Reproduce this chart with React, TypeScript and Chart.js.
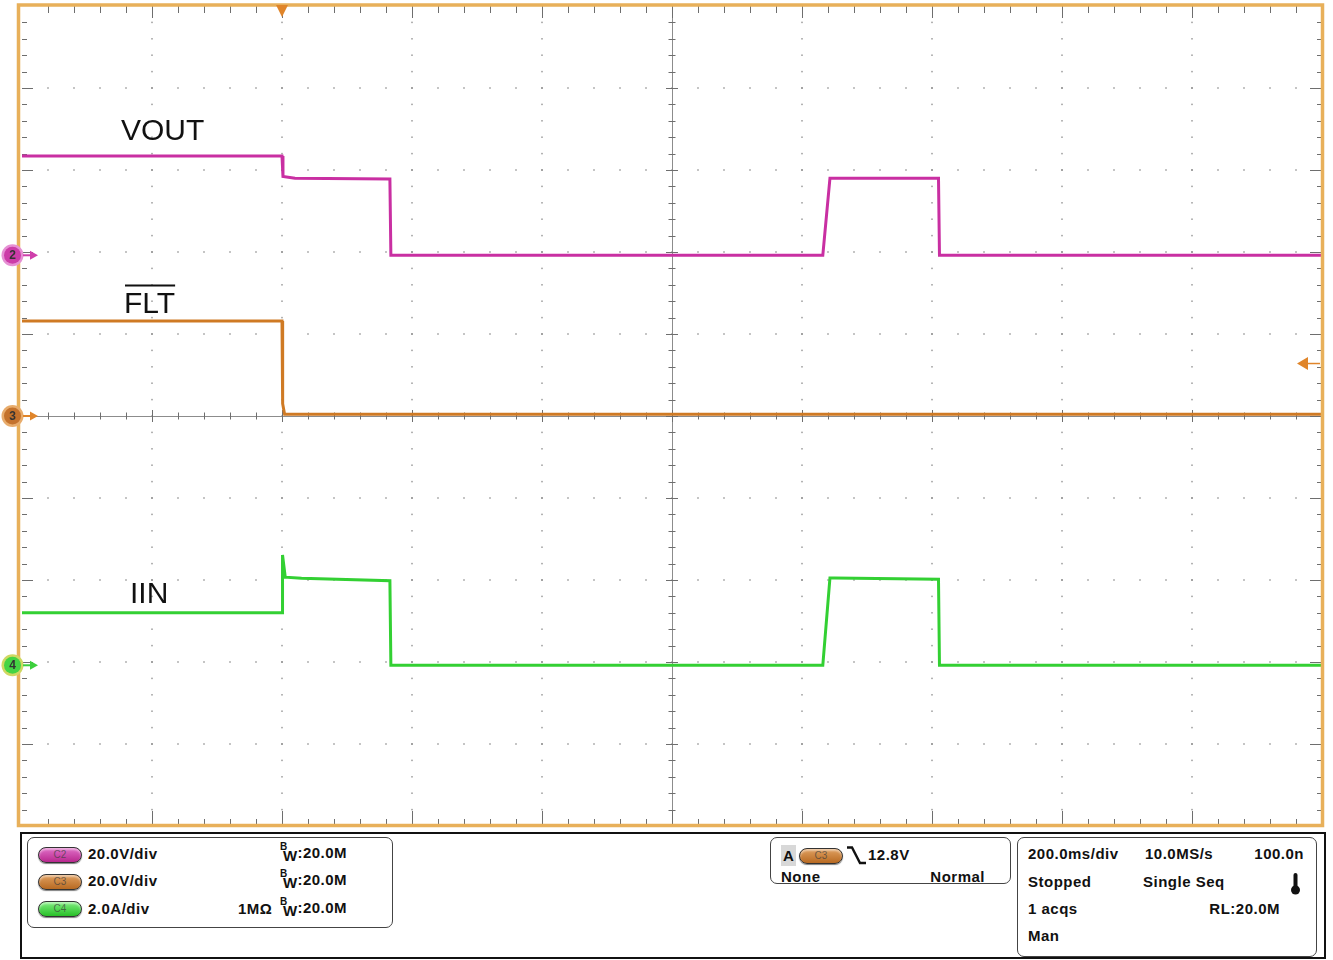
import React, { useEffect, useRef } from "react";
import { Chart, registerables } from "chart.js";
Chart.register(...registerables);

// ---- time base (ms), 200 ms/div, 10 divisions, trigger at t=0 ----
const TIME_MIN = -400;
const TIME_MAX = 1600;
const H_DIVS = 10;
const V_DIVS = 10;
const MINOR = 5;

// ---- Channel 2: VOUT (20 V/div) ----
const VOUT_SCALE = 20;
const VOUT_OFFSET = 1.96;
const voutTimes = [-400, 0, 1.5, 20, 166, 167.5, 832, 843, 1010, 1011.5, 1600];
const voutValues = [24.2, 24.2, 19.2, 18.8, 18.6, 0, 0, 18.8, 18.8, 0, 0];

// ---- Channel 3: FLT (20 V/div) ----
const FLT_SCALE = 20;
const FLT_OFFSET = 0;
const fltTimes = [-400, 0, 1, 4, 1600];
const fltValues = [23.2, 23.2, 3.0, 0.4, 0.4];

// ---- Channel 4: IIN (2 A/div) ----
const IIN_SCALE = 2;
const IIN_OFFSET = -3.04;
const iinTimes = [-400, 0, 0.8, 5, 30, 166, 167.5, 832, 843, 850, 1010, 1011.5, 1600];
const iinValues = [1.28, 1.28, 2.69, 2.15, 2.12, 2.06, 0, 0, 2.13, 2.13, 2.1, 0, 0];

const TRIGGER_LEVEL = 12.8; // V on C3

function toPoints(times: number[], values: number[], scale: number, offset: number) {
  return times.map((t, i) => ({ x: t, y: values[i] / scale + offset }));
}

function marker(ctx: CanvasRenderingContext2D, cy: number, ring: string, fill: string, arrow: string, label: string) {
  const cx = 12.5;
  ctx.beginPath();
  ctx.arc(cx, cy, 11, 0, Math.PI * 2);
  ctx.fillStyle = ring;
  ctx.fill();
  ctx.beginPath();
  ctx.arc(cx, cy, 8.5, 0, Math.PI * 2);
  ctx.fillStyle = fill;
  ctx.fill();
  ctx.strokeStyle = arrow;
  ctx.lineWidth = 2;
  ctx.beginPath();
  ctx.moveTo(23, cy);
  ctx.lineTo(32, cy);
  ctx.stroke();
  ctx.fillStyle = arrow;
  ctx.beginPath();
  ctx.moveTo(30, cy - 4.5);
  ctx.lineTo(38, cy);
  ctx.lineTo(30, cy + 4.5);
  ctx.closePath();
  ctx.fill();
  ctx.fillStyle = "#333";
  ctx.font = "bold 12px 'Liberation Sans', Arial, sans-serif";
  ctx.textAlign = "center";
  ctx.textBaseline = "middle";
  ctx.fillText(label, cx, cy + 0.5);
}

const scopePlugin = {
  id: "scope",
  beforeDatasetsDraw(chart: any) {
    const { ctx, chartArea: a } = chart;
    const dx = (a.right - a.left) / H_DIVS;
    const dy = (a.bottom - a.top) / V_DIVS;
    ctx.save();
    ctx.fillStyle = "rgba(120,120,120,0.75)";
    for (let i = 1; i < H_DIVS; i++) {
      if (i === H_DIVS / 2) continue;
      const px = a.left + i * dx;
      for (let j = 1; j < V_DIVS * MINOR; j++) {
        const py = a.top + (j * dy) / MINOR;
        ctx.fillRect(px - 0.75, py - 0.75, 1.5, 1.5);
      }
    }
    for (let j = 1; j < V_DIVS; j++) {
      if (j === V_DIVS / 2) continue;
      const py = a.top + j * dy;
      for (let i = 1; i < H_DIVS * MINOR; i++) {
        const px = a.left + (i * dx) / MINOR;
        ctx.fillRect(px - 0.75, py - 0.75, 1.5, 1.5);
      }
    }
    const cx = a.left + (H_DIVS / 2) * dx;
    const cy = a.top + (V_DIVS / 2) * dy;
    ctx.strokeStyle = "#8c8c8c";
    ctx.lineWidth = 1;
    ctx.beginPath();
    ctx.moveTo(Math.round(cx) + 0.5, a.top);
    ctx.lineTo(Math.round(cx) + 0.5, a.bottom);
    ctx.moveTo(a.left, Math.round(cy) + 0.5);
    ctx.lineTo(a.right, Math.round(cy) + 0.5);
    ctx.stroke();
    ctx.strokeStyle = "#6e6e6e";
    ctx.beginPath();
    for (let i = 1; i < H_DIVS * MINOR; i++) {
      const px = Math.round(a.left + (i * dx) / MINOR) + 0.5;
      const major = i % MINOR === 0;
      const len = major ? 6 : 3.5;
      ctx.moveTo(px, cy - len);
      ctx.lineTo(px, cy + len);
      ctx.moveTo(px, a.top);
      ctx.lineTo(px, a.top + (major ? 12 : 7));
      ctx.moveTo(px, a.bottom);
      ctx.lineTo(px, a.bottom - (major ? 15 : 7));
    }
    for (let j = 1; j < V_DIVS * MINOR; j++) {
      const py = Math.round(a.top + (j * dy) / MINOR) + 0.5;
      const major = j % MINOR === 0;
      const len = major ? 6 : 3.5;
      ctx.moveTo(cx - len, py);
      ctx.lineTo(cx + len, py);
      ctx.moveTo(a.left, py);
      ctx.lineTo(a.left + (major ? 11 : 5), py);
      ctx.moveTo(a.right, py);
      ctx.lineTo(a.right - (major ? 12 : 5), py);
    }
    ctx.stroke();
    ctx.restore();
  },
  afterDatasetsDraw(chart: any) {
    const { ctx, scales } = chart;
    const x = scales.x;
    const y = scales.y;
    ctx.save();
    ctx.strokeStyle = "#e8b05a";
    ctx.lineWidth = 3.5;
    ctx.strokeRect(18.5, 5, 1322.5 - 18.5, 825.5 - 5);

    const tx = x.getPixelForValue(0);
    ctx.fillStyle = "#e0852a";
    ctx.beginPath();
    ctx.moveTo(tx - 6, 5);
    ctx.lineTo(tx + 6, 5);
    ctx.lineTo(tx, 17);
    ctx.closePath();
    ctx.fill();

    const ly = y.getPixelForValue(TRIGGER_LEVEL / FLT_SCALE + FLT_OFFSET);
    ctx.beginPath();
    ctx.moveTo(1297, ly);
    ctx.lineTo(1308, ly - 6.5);
    ctx.lineTo(1308, ly + 6.5);
    ctx.closePath();
    ctx.fill();
    ctx.strokeStyle = "#e0852a";
    ctx.lineWidth = 1.5;
    ctx.beginPath();
    ctx.moveTo(1306, ly);
    ctx.lineTo(1320, ly);
    ctx.stroke();

    marker(ctx, y.getPixelForValue(VOUT_OFFSET), "#e690d4", "#cc3ca8", "#cf3fab", "2");
    marker(ctx, y.getPixelForValue(FLT_OFFSET), "#e8ac6c", "#c4722c", "#e0852a", "3");
    marker(ctx, y.getPixelForValue(IIN_OFFSET), "#cfd862", "#44d444", "#3ccf3c", "4");

    ctx.fillStyle = "#111";
    ctx.font = "30px 'Liberation Sans', Arial, sans-serif";
    ctx.textAlign = "left";
    ctx.textBaseline = "alphabetic";
    ctx.fillText("VOUT", 121, 140);
    ctx.fillText("FLT", 124, 313);
    const fw = ctx.measureText("FLT").width;
    ctx.fillRect(125, 284.5, fw - 1, 2);
    ctx.fillText("IIN", 130, 603);
    ctx.restore();
  },
};

const font: React.CSSProperties = {
  fontFamily: "'Liberation Sans', Arial, sans-serif",
  fontWeight: "bold",
  fontSize: 15,
  letterSpacing: 0.5,
  color: "#111",
  whiteSpace: "nowrap",
};

function Txt({ x, y, right, children }: { x?: number; y: number; right?: number; children: React.ReactNode }) {
  const st: React.CSSProperties = { position: "absolute", top: y - 9, lineHeight: "18px", ...font };
  if (right !== undefined) st.right = 1333 - right;
  else st.left = x;
  return <div style={st}>{children}</div>;
}

function Pill({ x, y, bg, label }: { x: number; y: number; bg: string; label: string }) {
  return (
    <div
      style={{
        position: "absolute",
        left: x,
        top: y - 8,
        width: 44,
        height: 16,
        borderRadius: 8,
        background: bg,
        border: "1px solid #333",
        boxSizing: "border-box",
        boxShadow: "inset 0 2px 2px rgba(255,255,255,0.45), 0 1px 1px rgba(0,0,0,0.5)",
        fontFamily: "'Liberation Sans', Arial, sans-serif",
        fontSize: 10,
        lineHeight: "14px",
        textAlign: "center",
        color: "rgba(60,60,60,0.7)",
      }}
    >
      {label}
    </div>
  );
}

function BW({ x, y }: { x: number; y: number }) {
  return (
    <div style={{ position: "absolute", left: x, top: y - 10, ...font }}>
      <span style={{ position: "absolute", left: 0, top: -3, fontSize: 10, letterSpacing: 0 }}>B</span>
      <span style={{ position: "relative", left: 3, top: 3 }}>W</span>
      <span style={{ position: "relative", left: 3 }}>:20.0M</span>
    </div>
  );
}

export default function App() {
  const ref = useRef<HTMLCanvasElement | null>(null);
  useEffect(() => {
    if (!ref.current) return;
    const chart = new Chart(ref.current, {
      type: "line",
      data: {
        datasets: [
          {
            label: "VOUT",
            data: toPoints(voutTimes, voutValues, VOUT_SCALE, VOUT_OFFSET),
            borderColor: "#c92fa2",
            borderWidth: 3,
            pointRadius: 0,
          },
          {
            label: "FLT",
            data: toPoints(fltTimes, fltValues, FLT_SCALE, FLT_OFFSET),
            borderColor: "#cf7a24",
            borderWidth: 3,
            pointRadius: 0,
          },
          {
            label: "IIN",
            data: toPoints(iinTimes, iinValues, IIN_SCALE, IIN_OFFSET),
            borderColor: "#33d033",
            borderWidth: 3,
            pointRadius: 0,
          },
        ],
      },
      options: {
        responsive: false,
        animation: false,
        parsing: false as any,
        layout: { padding: { left: 22, right: 11, top: 6, bottom: 4 } },
        plugins: { legend: { display: false }, tooltip: { enabled: false } },
        elements: { line: { tension: 0 }, point: { radius: 0 } },
        scales: {
          x: { type: "linear", min: TIME_MIN, max: TIME_MAX, display: false },
          y: { type: "linear", min: -V_DIVS / 2, max: V_DIVS / 2, display: false },
        },
      },
      plugins: [scopePlugin],
    });
    return () => chart.destroy();
  }, []);

  const box: React.CSSProperties = {
    position: "absolute",
    border: "1.5px solid #444",
    borderRadius: 7,
    boxSizing: "border-box",
  };

  return (
    <div style={{ position: "absolute", left: 0, top: 0, width: 1333, height: 960, background: "#fff", overflow: "hidden" }}>
      <canvas ref={ref} width={1333} height={830} style={{ position: "absolute", left: 0, top: 0, display: "block" }} />
      <div style={{ position: "absolute", left: 20, top: 832, width: 1306, height: 127, border: "2px solid #111", boxSizing: "border-box" }} />
      <div style={{ ...box, left: 27, top: 837, width: 366, height: 91 }} />
      <div style={{ ...box, left: 770, top: 837, width: 241, height: 47 }} />
      <div style={{ ...box, left: 1017, top: 837, width: 300, height: 120 }} />

      <Pill x={38} y={855} bg="linear-gradient(#e070c8, #b8288e)" label="C2" />
      <Pill x={38} y={882} bg="linear-gradient(#e0a060, #b86a22)" label="C3" />
      <Pill x={38} y={909} bg="linear-gradient(#80ee80, #28c028)" label="C4" />
      <Txt x={88} y={854}>20.0V/div</Txt>
      <Txt x={88} y={881}>20.0V/div</Txt>
      <Txt x={88} y={909}>2.0A/div</Txt>
      <BW x={280} y={854} />
      <BW x={280} y={881} />
      <Txt x={238} y={909}>1MΩ</Txt>
      <BW x={280} y={909} />

      <div style={{ position: "absolute", left: 781, top: 845, width: 15, height: 21, background: "#d8d8d8", ...font, lineHeight: "21px", textAlign: "center", letterSpacing: 0 }}>A</div>
      <Pill x={799} y={856} bg="linear-gradient(#e0a060, #b86a22)" label="C3" />
      <svg style={{ position: "absolute", left: 846, top: 845 }} width={22} height={22}>
        <path d="M1 2.5 H6 L14 18 H20" stroke="#111" strokeWidth={2.4} fill="none" />
      </svg>
      <Txt x={868} y={855}>12.8V</Txt>
      <Txt x={781} y={877}>None</Txt>
      <Txt right={985} y={877}>Normal</Txt>

      <Txt x={1028} y={854}>200.0ms/div</Txt>
      <Txt x={1145} y={854}>10.0MS/s</Txt>
      <Txt right={1304} y={854}>100.0n</Txt>
      <Txt x={1028} y={882}>Stopped</Txt>
      <Txt x={1143} y={882}>Single Seq</Txt>
      <svg style={{ position: "absolute", left: 1288, top: 872 }} width={16} height={24}>
        <rect x={5.5} y={1} width={4} height={16} rx={2} fill="#111" />
        <circle cx={7.5} cy={18} r={4.5} fill="#111" />
      </svg>
      <Txt x={1028} y={909}>1 acqs</Txt>
      <Txt right={1280} y={909}>RL:20.0M</Txt>
      <Txt x={1028} y={936}>Man</Txt>
    </div>
  );
}
